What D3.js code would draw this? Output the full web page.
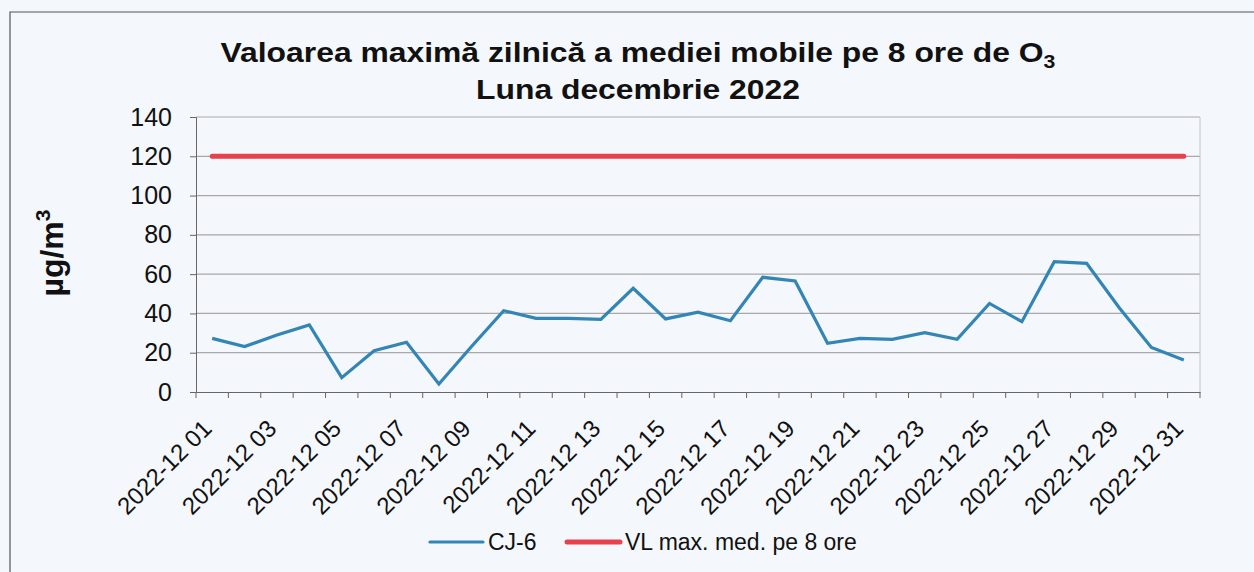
<!DOCTYPE html>
<html>
<head>
<meta charset="utf-8">
<script src="https://cdn.jsdelivr.net/npm/d3@7"></script>
<style>
  body { margin: 0; background: #f4f7fb; }
  svg text { font-family: "Liberation Sans", Arial, sans-serif; fill: #111; }
</style>
</head>
<body>
<svg id="chart" width="1254" height="572"></svg>
<script>
// values
const days = d3.range(1, 32).map(d => "2022-12 " + String(d).padStart(2, "0"));
const cj6 = [27.3, 23.1, 29, 34.1, 7.3, 21, 25.3, 4.1, 23, 41.4, 37.5, 37.5, 37, 52.8, 37.2, 40.6,
             36.3, 58.4, 56.5, 24.8, 27.3, 26.8, 30.2, 26.8, 45.1, 35.8, 66.3, 65.5, 43, 22.7, 16.3];
const limit = days.map(() => 120);
const yTicks = [0, 20, 40, 60, 80, 100, 120, 140];

const svg = d3.select("#chart");
const margin = { left: 196, right: 54, top: 117, bottom: 180 };
const W = 1254, H = 572;

// outer frame of the scanned chart
svg.append("path")
  .attr("d", "M10,572 L10,12 L1254,12")
  .attr("fill", "none").attr("stroke", "#555").attr("stroke-width", 1.2);

const x = d3.scaleBand().domain(days).range([margin.left, W - margin.right]);
const y = d3.scaleLinear().domain([0, 140]).range([H - margin.bottom, margin.top]);

// grid
svg.append("g").selectAll("line").data(yTicks.slice(1)).join("line")
  .attr("x1", margin.left).attr("x2", W - margin.right)
  .attr("y1", d => y(d)).attr("y2", d => y(d))
  .attr("stroke", "#a9a9a9").attr("stroke-width", 1.2);
svg.append("line")
  .attr("x1", W - margin.right).attr("x2", W - margin.right)
  .attr("y1", y(140)).attr("y2", y(0))
  .attr("stroke", "#c4c4c4");

// y axis
const yAxis = svg.append("g")
  .attr("transform", `translate(${margin.left},0)`)
  .call(d3.axisLeft(y).tickValues(yTicks).tickSize(6).tickPadding(18));
yAxis.select(".domain").attr("stroke", "#666");
yAxis.selectAll(".tick line").attr("stroke", "#666");
yAxis.selectAll("text").attr("font-size", 25).attr("fill", "#111");

// x axis
const xAxis = svg.append("g")
  .attr("transform", `translate(0,${y(0)})`)
  .call(d3.axisBottom(x).tickSize(0).tickFormat(""));
xAxis.select(".domain").attr("stroke", "#666");
// tick marks on band edges
svg.append("g").selectAll("line").data(days.concat(["end"])).join("line")
  .attr("x1", (d, i) => margin.left + i * x.step()).attr("x2", (d, i) => margin.left + i * x.step())
  .attr("y1", y(0)).attr("y2", y(0) + 6)
  .attr("stroke", "#666");

svg.append("g").selectAll("text").data(days.filter((d, i) => i % 2 === 0)).join("text")
  .attr("transform", d => `translate(${x(d) + x.bandwidth() / 2 + 1},${y(0) + 38}) rotate(-45)`)
  .attr("text-anchor", "end")
  .attr("font-size", 24)
  .text(d => d);

// series
const line = d3.line().x((d, i) => x(days[i]) + x.bandwidth() / 2).y(d => y(d));
svg.append("path").datum(limit).attr("d", line)
  .attr("fill", "none").attr("stroke", "#e8414c").attr("stroke-width", 5).attr("stroke-linecap", "round");
svg.append("path").datum(cj6).attr("d", line)
  .attr("fill", "none").attr("stroke", "#3285b5").attr("stroke-width", 3.2).attr("stroke-linejoin", "miter");

// title
const t1 = svg.append("text").attr("text-anchor", "middle")
  .attr("transform", "translate(638,62) scale(1.18,1)")
  .attr("font-size", 27).attr("font-weight", "bold");
t1.append("tspan").text("Valoarea maximă zilnică a mediei mobile pe 8 ore de O");
t1.append("tspan").attr("font-size", 18).attr("dy", 6).text("3");
svg.append("text").attr("text-anchor", "middle")
  .attr("transform", "translate(638,99) scale(1.18,1)")
  .attr("font-size", 27).attr("font-weight", "bold").text("Luna decembrie 2022");

// y label
const yl = svg.append("text").attr("transform", "translate(63,253) rotate(-90)")
  .attr("text-anchor", "middle").attr("font-size", 32).attr("font-weight", "bold");
yl.append("tspan").text("µg/m");
yl.append("tspan").attr("font-size", 21).attr("dy", -13).text("3");

// legend
const legend = [
  { name: "CJ-6", color: "#3285b5", w: 3.2, x: 430 },
  { name: "VL max. med. pe 8 ore", color: "#e8414c", w: 5, x: 567 }
];
const lg = svg.append("g").selectAll("g").data(legend).join("g")
  .attr("transform", d => `translate(${d.x},542)`);
lg.append("line").attr("x1", 0).attr("x2", 53).attr("y1", 0).attr("y2", 0)
  .attr("stroke", d => d.color).attr("stroke-width", d => d.w).attr("stroke-linecap", "round");
lg.append("text").attr("x", 58).attr("y", 8).attr("font-size", 23).text(d => d.name);
</script>
</body>
</html>
